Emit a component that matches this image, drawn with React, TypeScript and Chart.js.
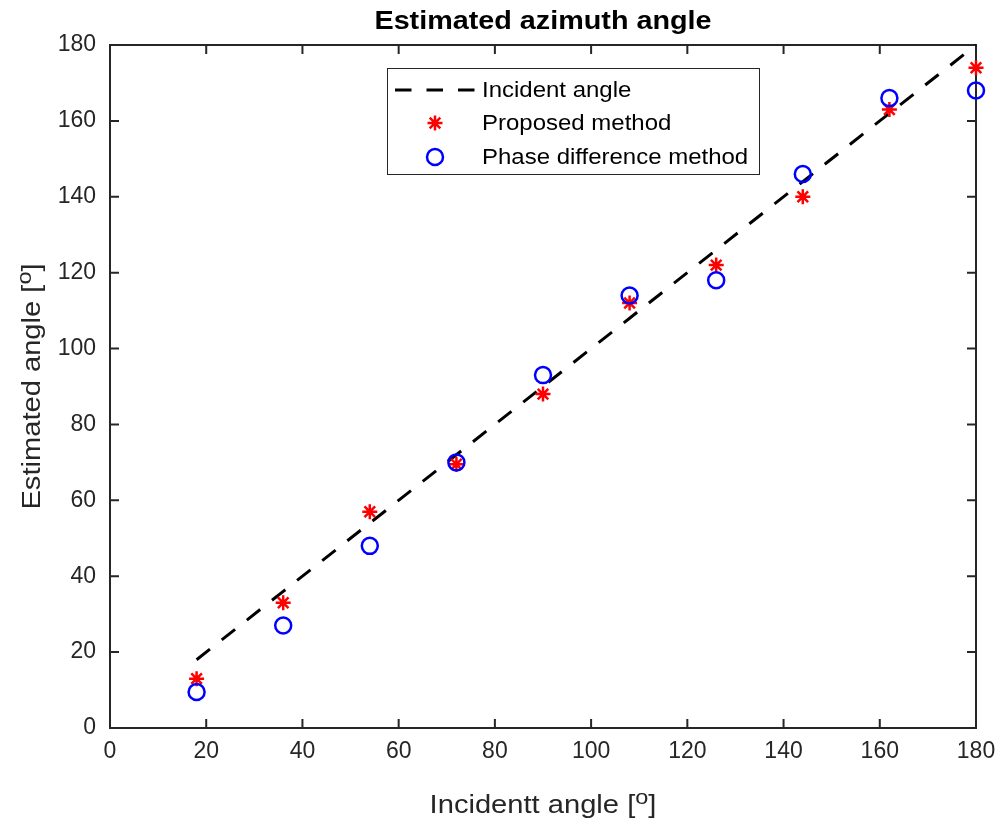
import React, { useEffect, useRef } from 'react';
import { Chart, registerables } from 'chart.js';

Chart.register(...registerables);

// ---- data ----
const incidentX = [18, 36, 54, 72, 90, 108, 126, 144, 162, 180];
const incidentY = [18, 36, 54, 72, 90, 108, 126, 144, 162, 180];
const proposedY = [13, 33, 57, 69.5, 88, 112, 122, 140, 163, 174];
const phaseY = [9.5, 27, 48, 70, 93, 114, 118, 146, 166, 168];
const axisMin = 0;
const axisMax = 180;
const axisStep = 20;

const titleText = 'Estimated azimuth angle';
const xLabelText = 'Incidentt angle [';
const yLabelText = 'Estimated angle [';
const supText = 'o';
const closeText = ']';
const legendLabels = ['Incident angle', 'Proposed method', 'Phase difference method'];

const FONT = '"Liberation Sans", Arial, Helvetica, sans-serif';
const AXIS_COLOR = '#262626';

function drawSupLabel(ctx: CanvasRenderingContext2D, cx: number, cy: number, main: string, stretch: number) {
  const mainFont = `26px ${FONT}`;
  const supFont = `21px ${FONT}`;
  ctx.font = mainFont;
  const w1 = ctx.measureText(main).width;
  const w3 = ctx.measureText(closeText).width;
  ctx.font = supFont;
  const w2 = ctx.measureText(supText).width;
  const total = w1 + w2 + w3;
  ctx.save();
  ctx.translate(cx, cy);
  ctx.scale(stretch, 1);
  let x = -total / 2;
  ctx.textAlign = 'left';
  ctx.textBaseline = 'alphabetic';
  ctx.fillStyle = AXIS_COLOR;
  ctx.font = mainFont;
  ctx.fillText(main, x, 0);
  x += w1;
  ctx.font = supFont;
  ctx.fillText(supText, x, -9);
  x += w2;
  ctx.font = mainFont;
  ctx.fillText(closeText, x, 0);
  ctx.restore();
}

const decorPlugin = {
  id: 'decor',
  beforeDatasetsDraw(chart: any) {
    const { ctx, chartArea: a, scales } = chart;
    const xs = scales.x;
    const ys = scales.y;
    ctx.save();
    ctx.strokeStyle = AXIS_COLOR;
    ctx.lineWidth = 2;
    ctx.strokeRect(a.left, a.top, a.right - a.left, a.bottom - a.top);
    const tl = 9;
    ctx.beginPath();
    xs.ticks.forEach((t: any) => {
      const px = xs.getPixelForValue(t.value);
      ctx.moveTo(px, a.bottom);
      ctx.lineTo(px, a.bottom - tl);
      ctx.moveTo(px, a.top);
      ctx.lineTo(px, a.top + tl);
    });
    ys.ticks.forEach((t: any) => {
      const py = ys.getPixelForValue(t.value);
      ctx.moveTo(a.left, py);
      ctx.lineTo(a.left + tl, py);
      ctx.moveTo(a.right, py);
      ctx.lineTo(a.right - tl, py);
    });
    ctx.stroke();
    ctx.restore();
  },
  afterDatasetsDraw(chart: any) {
    const { ctx, chartArea: a } = chart;
    ctx.save();
    // legend box
    const bx = 387.5, by = 68.5, bw = 372, bh = 106;
    ctx.fillStyle = '#ffffff';
    ctx.fillRect(bx, by, bw, bh);
    ctx.strokeStyle = AXIS_COLOR;
    ctx.lineWidth = 1;
    ctx.strokeRect(bx, by, bw, bh);
    const rows = [90, 123, 157];
    const mx = 435;
    // dashed line sample
    ctx.strokeStyle = '#000000';
    ctx.lineWidth = 3;
    ctx.setLineDash([16.5, 15]);
    ctx.beginPath();
    ctx.moveTo(395, rows[0]);
    ctx.lineTo(475, rows[0]);
    ctx.stroke();
    ctx.setLineDash([]);
    // star sample
    ctx.strokeStyle = '#ff0000';
    ctx.lineWidth = 2.5;
    const r = 7.5;
    ctx.beginPath();
    ctx.moveTo(mx - r, rows[1]);
    ctx.lineTo(mx + r, rows[1]);
    ctx.moveTo(mx, rows[1] - r);
    ctx.lineTo(mx, rows[1] + r);
    const d = r * Math.SQRT1_2;
    ctx.moveTo(mx - d, rows[1] - d);
    ctx.lineTo(mx + d, rows[1] + d);
    ctx.moveTo(mx - d, rows[1] + d);
    ctx.lineTo(mx + d, rows[1] - d);
    ctx.stroke();
    // circle sample
    ctx.strokeStyle = '#0000ff';
    ctx.lineWidth = 2.5;
    ctx.beginPath();
    ctx.arc(mx, rows[2], 8, 0, Math.PI * 2);
    ctx.stroke();
    // legend text
    ctx.fillStyle = '#000000';
    ctx.font = `22px ${FONT}`;
    ctx.textAlign = 'left';
    ctx.textBaseline = 'middle';
    legendLabels.forEach((lab, i) => {
      ctx.save();
      ctx.translate(482, rows[i] + 1);
      ctx.scale(1.09, 1);
      ctx.fillText(lab, 0, 0);
      ctx.restore();
    });

    // title
    const cx = (a.left + a.right) / 2;
    ctx.save();
    ctx.translate(cx, 29);
    ctx.scale(1.15, 1);
    ctx.fillStyle = '#000000';
    ctx.font = `bold 25px ${FONT}`;
    ctx.textAlign = 'center';
    ctx.textBaseline = 'alphabetic';
    ctx.fillText(titleText, 0, 0);
    ctx.restore();

    // x axis label
    drawSupLabel(ctx, cx, 813, xLabelText, 1.12);

    // y axis label
    ctx.save();
    ctx.translate(40, (a.top + a.bottom) / 2);
    ctx.rotate(-Math.PI / 2);
    drawSupLabel(ctx, 0, 0, yLabelText, 1.12);
    ctx.restore();

    ctx.restore();
  },
};

export default function App() {
  const ref = useRef<HTMLCanvasElement | null>(null);

  useEffect(() => {
    document.body.style.margin = '0';
    const canvas = ref.current;
    if (!canvas) return;
    const chart = new Chart(canvas, {
      type: 'scatter',
      data: {
        datasets: [
          {
            label: legendLabels[0],
            type: 'line',
            data: incidentX.map((x, i) => ({ x, y: incidentY[i] })),
            borderColor: '#000000',
            borderWidth: 3,
            borderDash: [17, 15],
            pointRadius: 0,
            fill: false,
            showLine: true,
            order: 3,
            clip: false,
          } as any,
          {
            label: legendLabels[1],
            data: incidentX.map((x, i) => ({ x, y: proposedY[i] })),
            pointStyle: 'star',
            pointRadius: 7.5,
            borderColor: '#ff0000',
            backgroundColor: '#ff0000',
            pointBorderWidth: 2.5,
            borderWidth: 2.5,
            order: 2,
            clip: false,
          } as any,
          {
            label: legendLabels[2],
            data: incidentX.map((x, i) => ({ x, y: phaseY[i] })),
            pointStyle: 'circle',
            pointRadius: 8,
            borderColor: '#0000ff',
            backgroundColor: 'rgba(0,0,0,0)',
            pointBorderWidth: 2.5,
            borderWidth: 2.5,
            order: 1,
            clip: false,
          } as any,
        ],
      },
      options: {
        responsive: false,
        animation: false,
        devicePixelRatio: 1,
        layout: { padding: { left: 0, right: 26, top: 45, bottom: 0 } },
        plugins: {
          legend: { display: false },
          tooltip: { enabled: false },
          title: { display: false },
        },
        scales: {
          x: {
            type: 'linear',
            min: axisMin,
            max: axisMax,
            grid: { display: false, drawTicks: false },
            border: { display: false },
            ticks: {
              stepSize: axisStep,
              padding: 10,
              color: AXIS_COLOR,
              font: { family: FONT, size: 23 },
              maxRotation: 0,
              autoSkip: false,
            },
            afterFit: (s: any) => {
              s.height = 95;
              s.paddingLeft = 0;
              s.paddingRight = 0;
            },
          },
          y: {
            type: 'linear',
            min: axisMin,
            max: axisMax,
            grid: { display: false, drawTicks: false },
            border: { display: false },
            ticks: {
              stepSize: axisStep,
              padding: 14,
              color: AXIS_COLOR,
              font: { family: FONT, size: 23 },
              autoSkip: false,
            },
            afterFit: (s: any) => {
              s.width = 110;
              s.paddingTop = 0;
              s.paddingBottom = 0;
            },
          },
        },
      },
      plugins: [decorPlugin],
    } as any);
    return () => chart.destroy();
  }, []);

  return (
    <div style={{ position: 'absolute', left: 0, top: 0, width: 1002, height: 823, background: '#ffffff' }}>
      <canvas ref={ref} width={1002} height={823} />
    </div>
  );
}
